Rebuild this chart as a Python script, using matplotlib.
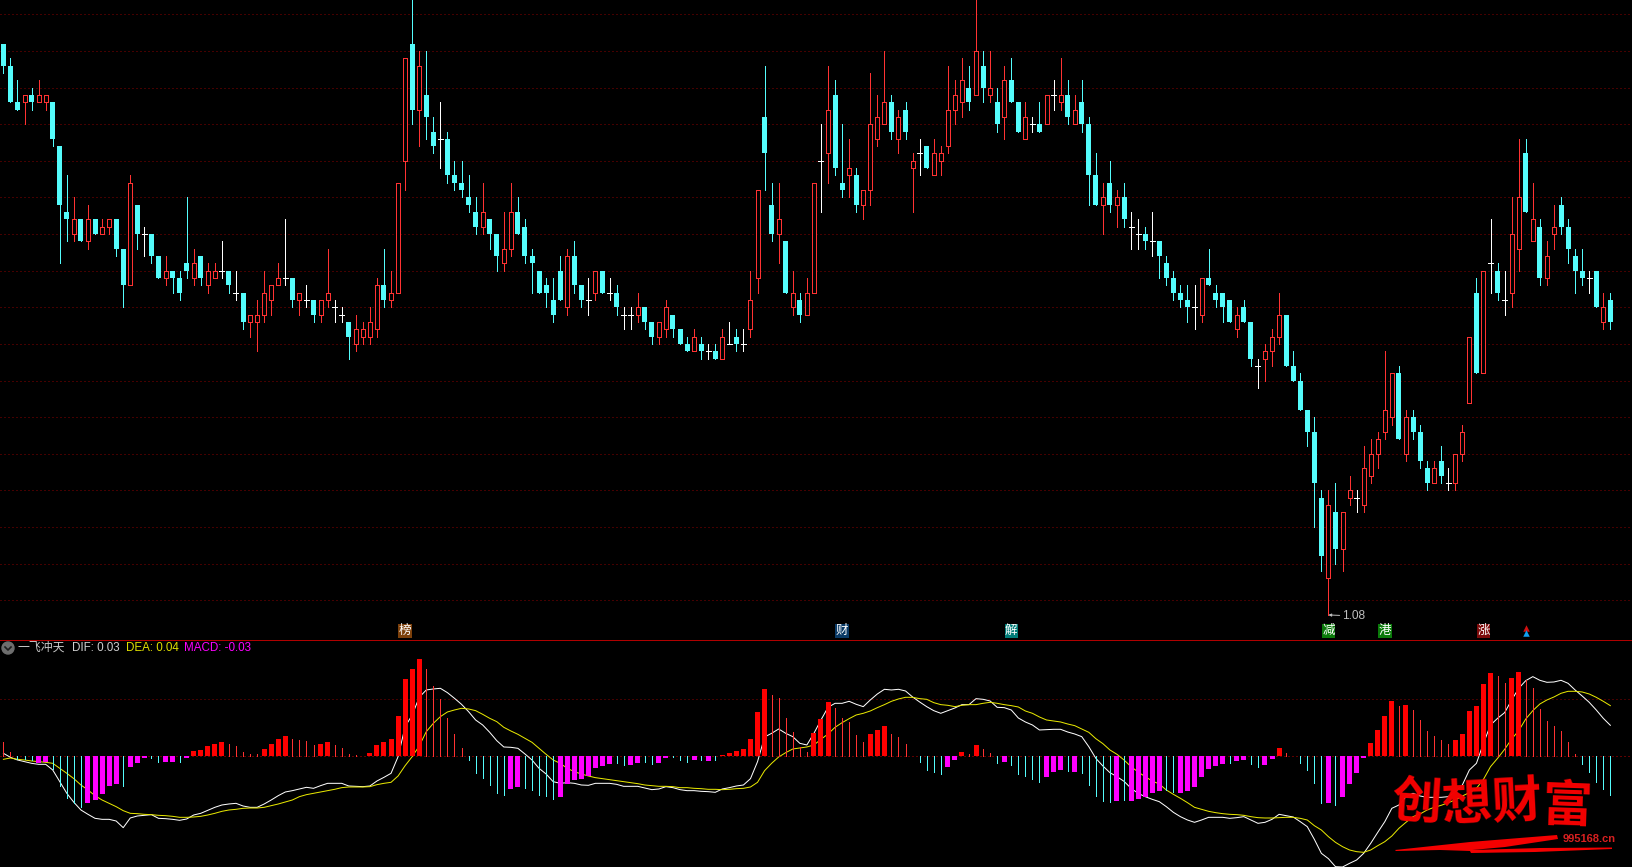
import numpy as np
import matplotlib
matplotlib.use("Agg")
import matplotlib.pyplot as plt
from matplotlib.patches import Circle, Polygon
from matplotlib.transforms import IdentityTransform

plt.rcParams['font.family'] = ['Liberation Sans', 'Noto Sans CJK SC', 'DejaVu Sans']

# prices in hundredths of a yuan
opens = [186,183,178,178,179,178,178,178,172,163,
         160,162,159,162,160,161,162,158,153,164,
         160,160,157,154,155,154,156,154,157,153,
         154,155,155,152,152,148,148,149,151,153,
         154,154,151,151,151,149,151,150,149,148,
         145,146,146,147,153,151,152,170,186,177,
         179,174,173,173,168,167,165,163,161,162,
         160,156,158,163,161,157,155,153,151,155,
         150,157,153,151,152,155,152,152,149,149,
         149,150,148,146,147,149,147,145,144,145,
         144,144,143,145,146,145,147,154,176,164,
         160,159,150,151,149,152,170,171,179,167,
         168,168,164,166,173,175,178,173,177,169,
         171,172,168,170,172,177,178,180,179,183,
         179,178,176,181,178,173,175,175,175,179,
         178,179,175,178,175,168,164,167,164,165,
         161,160,160,159,159,156,154,152,151,150,
         149,154,152,152,151,147,150,148,142,143,
         144,146,149,142,140,136,133,124,113,122,
         117,124,124,123,127,130,133,135,141,130,
         135,133,128,126,129,126,126,130,137,152,
         141,156,155,151,152,158,171,159,161,154,
         160,164,161,157,155,154,155,148,151]
highs = [186,184,181,179,180,181,179,178,172,168,
         165,162,164,162,162,162,162,158,168,164,
         161,160,157,157,155,155,165,158,157,156,
         156,159,155,155,152,149,151,155,153,156,
         162,154,152,153,151,151,158,151,150,148,
         149,148,150,154,158,155,167,184,195,185,
         185,176,178,174,170,170,168,165,167,162,
         160,163,167,165,162,158,155,154,154,157,
         158,159,153,154,155,155,154,153,150,150,
         152,150,148,148,151,149,147,146,147,146,
         145,145,147,148,147,147,155,166,183,167,
         167,159,155,152,154,167,175,183,181,175,
         173,169,166,182,179,185,179,177,178,171,
         173,172,173,172,183,181,184,183,195,185,
         185,180,183,184,178,178,176,178,179,181,
         184,181,179,181,176,171,167,170,166,167,
         163,162,161,163,159,157,155,153,153,153,
         154,158,153,152,151,150,151,148,143,145,
         147,152,149,144,141,136,135,125,125,126,
         122,127,125,131,132,133,144,141,142,136,
         136,134,129,129,131,128,130,134,146,154,
         155,162,156,155,165,173,173,167,162,159,
         164,165,162,158,158,155,155,152,152]
lows = [182,178,177,175,177,178,177,172,156,159,
        159,159,158,160,160,160,157,150,153,158,
        157,156,154,153,152,151,154,153,153,152,
        154,154,152,151,147,146,144,148,149,153,
        153,150,149,150,148,148,150,148,148,143,
        144,145,145,146,150,150,152,166,175,172,
        173,171,169,167,166,165,163,160,160,158,
        155,155,157,160,156,152,152,150,148,151,
        149,152,150,149,151,152,151,149,147,147,
        148,147,145,145,146,146,145,144,144,143,
        143,143,143,145,144,144,146,152,166,159,
        156,152,149,148,149,152,163,167,168,165,
        165,163,162,164,172,175,173,171,173,163,
        168,169,168,168,171,175,176,177,179,178,
        178,174,173,178,174,173,174,174,175,177,
        177,175,175,174,164,164,160,163,161,161,
        158,158,158,157,154,153,151,150,148,147,
        148,153,150,148,148,146,148,142,139,140,
        142,145,142,140,136,131,120,114,108,115,
        114,123,122,122,126,128,132,134,132,129,
        132,128,125,126,126,125,125,129,137,141,
        141,152,151,149,150,155,163,159,153,153,
        158,160,156,152,153,152,150,147,147]
closes = [183,178,177,179,178,179,179,173,164,162,
          162,159,162,160,161,162,158,153,167,160,
          160,157,154,155,154,152,155,156,154,155,
          155,155,153,152,148,149,149,152,153,154,
          154,151,152,151,149,151,152,150,149,146,
          147,147,148,153,151,152,167,184,177,183,
          176,172,173,168,167,166,164,161,163,160,
          157,158,163,160,157,156,152,152,149,151,
          157,153,151,151,155,152,152,150,149,149,
          150,148,146,148,150,147,145,144,146,144,
          144,143,146,145,145,145,151,166,171,160,
          162,152,152,149,152,167,170,177,169,166,
          169,164,166,175,176,178,174,176,174,170,
          171,169,171,171,177,179,181,178,185,180,
          180,175,181,178,174,176,175,174,179,179,
          179,176,177,175,168,164,165,164,165,162,
          161,160,159,159,157,154,152,151,150,150,
          154,153,151,150,148,149,148,143,142,144,
          146,149,142,140,136,133,126,116,123,117,
          122,125,124,128,130,132,136,141,132,135,
          133,129,126,128,127,126,130,133,146,141,
          155,156,152,151,160,165,163,162,154,157,
          161,161,158,155,154,154,150,150,148]

# indicator readings, 3420 of these make 1.0
macd_read = [43,14,-7,-9,-11,-20,-16,-38,-88,-124,
             -139,-151,-140,-130,-112,-88,-82,-88,-32,-20,
             -5,-5,-17,-17,-17,-17,-5,16,19,31,
             37,43,37,31,13,7,7,22,37,52,
             61,52,49,46,34,37,43,34,25,7,
             4,2,10,34,43,52,121,232,262,292,
             262,211,172,115,67,25,-10,-49,-64,-86,
             -110,-116,-98,-92,-95,-101,-116,-119,-128,-122,
             -83,-71,-68,-59,-35,-29,-23,-20,-26,-26,
             -20,-17,-23,-20,-5,-2,-11,-17,-11,-11,
             -14,-11,4,10,16,22,52,133,202,184,
             175,115,73,28,13,70,112,163,145,115,
             103,64,43,67,79,91,67,58,37,2,
             -17,-41,-47,-53,-32,-11,13,7,34,22,
             10,-20,-17,-26,-53,-59,-68,-77,-62,-47,
             -41,-44,-47,-50,-86,-119,-134,-137,-134,-131,
             -134,-128,-122,-110,-104,-101,-107,-110,-104,-92,
             -62,-38,-29,-23,-20,-14,-11,-23,-32,-26,
             -8,25,10,1,-20,-41,-80,-140,-140,-146,
             -122,-83,-50,-5,40,79,121,166,151,154,
             139,109,76,61,49,37,49,67,136,151,
             217,250,241,220,235,253,229,205,142,106,
             91,76,43,7,-23,-47,-77,-98,-116]
dif_read = [9,-3,-11,-16,-21,-24,-24,-41,-76,-111,
            -138,-161,-174,-186,-189,-189,-194,-214,-185,-179,
            -177,-175,-186,-187,-189,-192,-188,-176,-171,-162,
            -153,-146,-143,-141,-149,-153,-153,-143,-131,-118,
            -107,-103,-98,-93,-96,-88,-81,-81,-81,-89,
            -90,-91,-89,-74,-63,-51,-1,89,124,177,
            199,202,204,191,174,156,134,109,94,72,
            47,28,27,24,7,-11,-36,-53,-76,-81,
            -79,-81,-86,-87,-81,-81,-81,-84,-90,-90,
            -90,-95,-100,-98,-91,-94,-100,-103,-103,-105,
            -106,-108,-98,-94,-89,-86,-67,-16,58,69,
            82,69,59,39,34,69,109,147,159,159,
            165,156,149,169,187,201,199,201,196,178,
            163,149,137,129,137,145,155,155,173,171,
            166,147,146,139,115,103,94,79,80,81,
            81,73,67,59,29,-6,-29,-49,-61,-75,
            -96,-111,-121,-129,-136,-151,-168,-181,-191,-198,
            -191,-183,-183,-183,-186,-184,-181,-191,-201,-198,
            -189,-174,-178,-182,-196,-211,-249,-291,-307,-331,
            -332,-321,-311,-291,-261,-228,-196,-156,-146,-121,
            -111,-119,-123,-123,-123,-121,-106,-86,-41,-21,
            39,94,114,131,169,204,227,239,228,222,
            223,228,219,199,181,162,139,114,93]
dea_read = [-9,-5,-9,-11,-14,-16,-18,-21,-36,-51,
            -67,-86,-101,-118,-131,-141,-151,-163,-171,-172,
            -174,-175,-177,-178,-180,-183,-183,-182,-180,-176,
            -171,-165,-161,-159,-156,-155,-155,-153,-148,-143,
            -137,-131,-121,-115,-111,-107,-103,-99,-94,-92,
            -92,-92,-91,-85,-81,-78,-59,-28,-1,31,
            74,99,119,133,139,144,142,137,126,114,
            104,87,76,66,54,42,24,6,-11,-21,
            -36,-46,-53,-59,-64,-67,-70,-73,-76,-79,
            -82,-86,-88,-90,-90,-91,-94,-94,-96,-97,
            -99,-99,-100,-99,-97,-96,-92,-78,-43,-21,
            -2,11,22,25,28,34,51,67,87,101,
            113,124,129,136,146,155,165,172,177,177,
            173,171,161,155,153,149,153,155,155,159,
            162,159,155,152,148,136,129,118,109,106,
            103,97,92,82,72,53,38,19,6,-11,
            -31,-47,-61,-74,-83,-101,-114,-126,-139,-153,
            -159,-165,-169,-172,-174,-175,-177,-181,-184,-185,
            -185,-184,-183,-183,-186,-191,-208,-221,-241,-258,
            -271,-281,-286,-288,-281,-268,-256,-239,-216,-198,
            -181,-173,-161,-153,-147,-139,-131,-119,-109,-96,
            -69,-31,-6,21,52,77,112,137,157,169,
            178,189,195,195,193,187,177,165,152]
# days whose MACD bar is the solid kind
strong_days = [5,6,12,13,14,15,16,18,19,20,23,24,26,27,28,29,30,31,37,38,39,40,45,46,
               52,53,54,55,56,57,58,59,72,73,79,80,81,82,83,84,85,86,89,90,93,94,98,100,
               102,103,104,105,106,107,108,115,116,117,123,124,125,134,135,136,138,142,
               148,149,150,152,158,160,161,162,163,164,167,168,169,170,171,172,173,175,176,
               179,180,181,188,190,191,192,193,194,195,196,197,199,206,207,208,209,210,211,214,215]

tag_days = [57, 119, 143, 188, 196, 210]
tag_text = ["榜", "财", "解", "减", "港", "涨"]
tag_colors = ["#7B3F0A", "#0A3A66", "#007C78", "#0A7A0A", "#0A7A0A", "#7C0A0A"]
arrow_day = 216
price_grid = [1.10, 1.15, 1.20, 1.25, 1.30, 1.35, 1.40, 1.45, 1.50, 1.55, 1.60,
              1.65, 1.70, 1.75, 1.80, 1.85, 1.90]
low_label = "1.08"
low_day = 188

RED = "#FF3232"
CYAN = "#54FCFC"
GRID = "#8A0000"
PX = 0.45  # aliased lines come out one pixel wide with this
DOTS = (0, (1, 3))

o = np.array(opens) / 100
h = np.array(highs) / 100
l = np.array(lows) / 100
c = np.array(closes) / 100
macd = np.array(macd_read) / 3420
dif = np.array(dif_read) / 3420
dea = np.array(dea_read) / 3420
x = np.arange(len(o))
step = 7.048
bar_w = 5 / step

fig = plt.figure(figsize=(16.32, 8.67), dpi=100, facecolor="black")
ax = fig.add_axes([0, 1 - 639.5 / 867, 1, 639.5 / 867], facecolor="black")
ax2 = fig.add_axes([0, 0, 1, 227.5 / 867], facecolor="black")
for a in (ax, ax2):
    a.set_xlim(-3.4 / step, (1632 - 3.4) / step)
    a.set_xticks([])
    a.set_yticks([])
    for s in a.spines.values():
        s.set_visible(False)
ax.set_ylim(1.10 - 39.2 / 732.5, 1.90 + 14.3 / 732.5)
ax2.set_ylim(-332 / 3420, 350.4 / 3420)
ax2.spines["top"].set_visible(True)
ax2.spines["top"].set_color("#B00000")
ax2.spines["top"].set_linewidth(0.72)

# price panel
for p in price_grid:
    ax.axhline(p, color=GRID, lw=0.72, ls=DOTS, zorder=1)

up = c > o
down = c < o
flat = c == o
ax.vlines(x[up], l[up], h[up], color=RED, lw=PX, antialiased=False, zorder=2)
ax.vlines(x[down], l[down], h[down], color=CYAN, lw=PX, antialiased=False, zorder=2)
ax.vlines(x[flat], l[flat], h[flat], color="white", lw=PX, antialiased=False, zorder=2)
ax.bar(x[up], (c - o)[up], bottom=o[up], width=bar_w * 0.8, facecolor="black",
       edgecolor=RED, linewidth=PX, antialiased=False, zorder=3)
ax.bar(x[down], (o - c)[down], bottom=c[down], width=bar_w, color=CYAN, linewidth=0,
       antialiased=False, zorder=3)
ax.hlines(c[flat], x[flat] - bar_w / 2, x[flat] + bar_w / 2, color="white", lw=PX,
          antialiased=False, zorder=3)

ax.annotate(low_label, xy=(low_day, l[low_day]), xytext=(14, -1), textcoords="offset pixels",
            color="#BEBEBE", fontsize=8.6, va="center", ha="left", zorder=5,
            arrowprops=dict(arrowstyle="-|>", color="#BEBEBE", lw=0.7, mutation_scale=4,
                            shrinkA=0, shrinkB=0))

# tags sitting on the panel border
for d, t, col in zip(tag_days, tag_text, tag_colors):
    ax.text(d, 1.10 - 30.5 / 732.5, t, color="white", fontsize=9, ha="center", va="center",
            family=["Noto Sans CJK SC"], zorder=6,
            bbox=dict(boxstyle="square,pad=0.04", fc=col, ec="none"))
ax.scatter([arrow_day], [1.10 - 28 / 732.5], marker="^", s=22, color="#D01010", linewidths=0, zorder=6)
ax.scatter([arrow_day], [1.10 - 33 / 732.5], marker="^", s=22, color="#10A0F0", linewidths=0, zorder=6)

# MACD panel
ax2.axhline(0, color="#C00000", lw=0.72, ls=DOTS, zorder=1)
ax2.axhline(0.05, color=GRID, lw=0.72, ls=DOTS, zorder=1)
ax2.plot(x, dif, color="white", lw=0.72, zorder=2)
ax2.plot(x, dea, color="#E8E800", lw=0.72, zorder=2)

strong = np.zeros(len(x), dtype=bool)
strong[strong_days] = True
pos = macd >= 0
ax2.bar(x[strong & pos], macd[strong & pos], width=bar_w, color="#FF0000", linewidth=0,
        antialiased=False, zorder=3)
ax2.bar(x[strong & ~pos], macd[strong & ~pos], width=bar_w, color="#FF00FF", linewidth=0,
        antialiased=False, zorder=3)
ax2.vlines(x[~strong & pos], 0, macd[~strong & pos], color=RED, lw=PX, antialiased=False, zorder=3)
ax2.vlines(x[~strong & ~pos], 0, macd[~strong & ~pos], color=CYAN, lw=PX, antialiased=False, zorder=3)

# header line
H = 867
pix = IdentityTransform()
fig.add_artist(Circle((8, H - 648), 6, color="#6E6E6E", transform=pix))
fig.add_artist(plt.Line2D([5, 8, 11], [H - 647, H - 650, H - 647], color="#1E1E1E", lw=1.2, transform=pix))
fig.text(17.5 / 1632, 1 - 648 / H, "一飞冲天", color="#C8C8C8", fontsize=8.6, va="center")
fig.text(71.5 / 1632, 1 - 648 / H, "DIF: 0.03", color="#D0D0D0", fontsize=8.4, va="center")
fig.text(125.5 / 1632, 1 - 648 / H, "DEA: 0.04", color="#E0E000", fontsize=8.4, va="center")
fig.text(184 / 1632, 1 - 648 / H, "MACD: -0.03", color="#FF00FF", fontsize=8.4, va="center")

# watermark
for cx, cy, ch, rot in zip([1416, 1467, 1517, 1567], [803, 805, 803, 807], "创想财富", [-4, 3, 3, -2]):
    fig.text(cx / 1632, 1 - cy / H, ch, color="#F40000", fontsize=36, fontweight="bold", rotation=rot,
             ha="center", va="center", family=["Noto Sans CJK SC"], zorder=10)
stroke = [(1395, 850), (1470, 842), (1557, 835), (1558, 839), (1505, 847), (1472, 850), (1540, 848),
          (1612, 847.5), (1612, 849), (1535, 852), (1471, 853), (1470, 851), (1440, 850), (1396, 851)]
fig.add_artist(Polygon([(a, H - b) for a, b in stroke], closed=True, color="#F40000", lw=0,
                       transform=pix, zorder=10))
fig.text(1563 / 1632, 1 - 839 / H, "995168.cn", color="#D82020", fontsize=8, fontweight="bold",
         va="center", zorder=10)

fig.savefig("out.png", dpi=100, facecolor="black")
